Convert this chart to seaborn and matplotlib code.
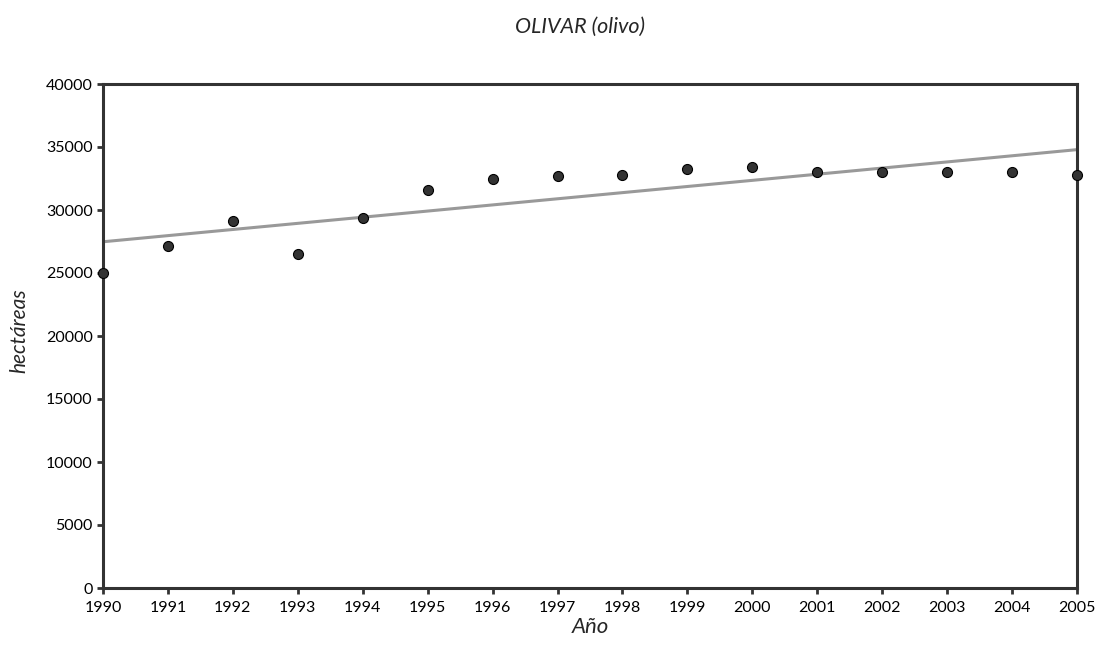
import numpy as np
import pandas as pd
import seaborn as sns
import matplotlib.pyplot as plt

# superficie de olivar (ha)
years = [1990, 1991, 1992, 1993, 1994, 1995, 1996, 1997,
         1998, 1999, 2000, 2001, 2002, 2003, 2004, 2005]
hectares = [25000, 27150, 29100, 26500, 29400, 31550, 32500, 32700,
            32750, 33250, 33450, 33000, 33000, 33000, 33000, 32800]
y_ticks = [0, 5000, 10000, 15000, 20000, 25000, 30000, 35000, 40000]

df = pd.DataFrame({"year": years, "ha": hectares})

sns.set_theme(style="white")
plt.rcParams['font.family'] = ['Lato', 'DejaVu Sans']

fig = plt.figure(figsize=(10.95, 6.61), dpi=100)
ax = fig.add_axes([103 / 1095, 73 / 661, 974 / 1095, 504 / 661])

edge = "#333333"
sns.regplot(x="year", y="ha", data=df, ax=ax, ci=None, truncate=True,
            scatter_kws={"s": 52, "color": "#333333", "edgecolor": "black",
                         "linewidths": 0.8, "alpha": 1, "zorder": 3,
                         "clip_on": False},
            line_kws={"color": "#999999", "linewidth": 2.2, "zorder": 2})

ax.set_xlim(1990, 2005)
ax.set_ylim(0, 40000)
ax.set_xticks(years)
ax.set_xticklabels([str(y) for y in years])
ax.set_yticks(y_ticks)
ax.set_yticklabels([str(v) for v in y_ticks])

for s in ax.spines.values():
    s.set_color(edge)
    s.set_linewidth(2.2)
    s.set_visible(True)

ax.tick_params(axis="both", which="both", direction="out", length=4.5, width=2,
               color=edge, labelsize=11.5, labelcolor="black",
               bottom=True, left=True, top=False, right=False)
ax.tick_params(axis="x", pad=5)
ax.tick_params(axis="y", pad=3)

ax.set_xlabel("Año", fontsize=16, style="italic", labelpad=1)
ax.set_ylabel("hectáreas", fontsize=15, style="italic")
ax.yaxis.set_label_coords(-0.076, 0.51)
ax.set_title("OLIVAR (olivo)", fontsize=15.5, style="italic", pad=37, x=0.49)

fig.savefig("out.png", dpi=100)
